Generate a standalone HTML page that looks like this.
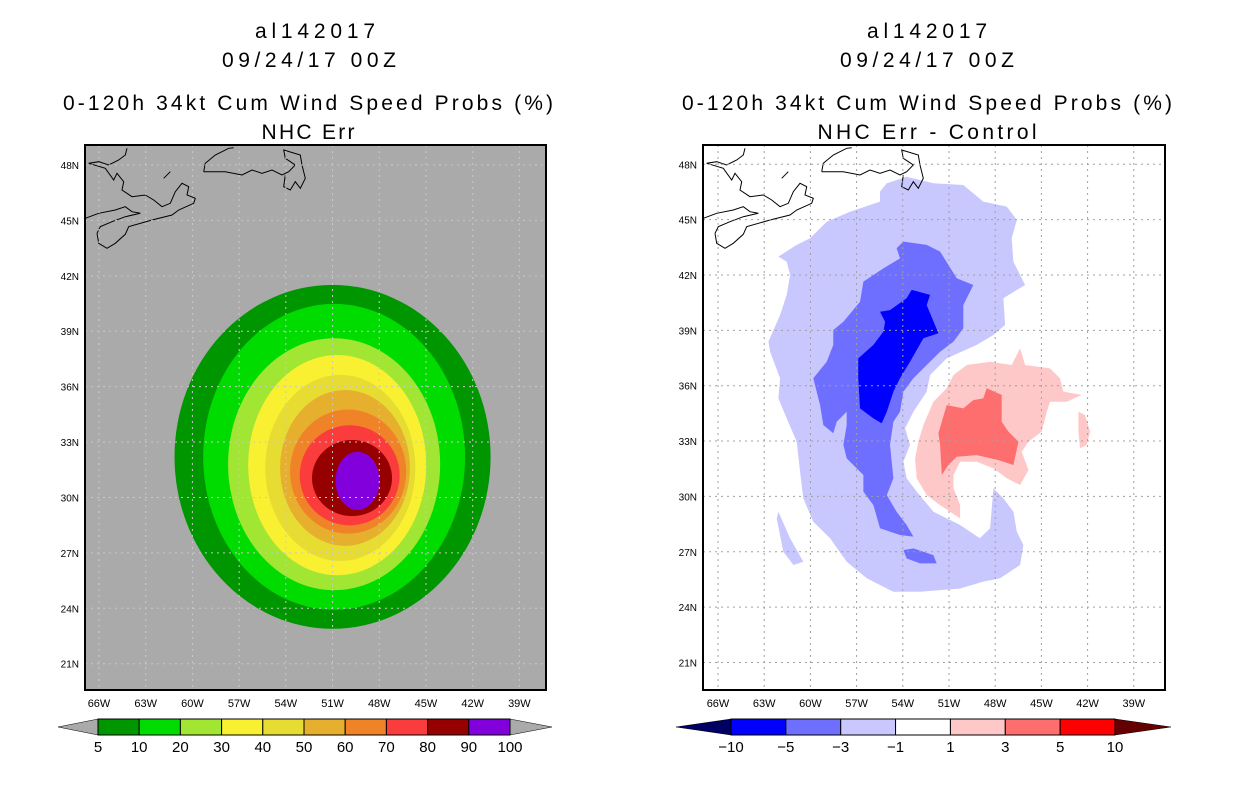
<!DOCTYPE html>
<html><head><meta charset="utf-8"><style>
body{margin:0;background:#fff;width:1236px;height:800px;overflow:hidden}
svg{display:block}
text{font-family:"Liberation Sans",sans-serif}
</style></head><body>
<svg id="s" width="1236" height="800" xmlns="http://www.w3.org/2000/svg">
<g font-size="21" text-anchor="middle" fill="#000">
<text x="315" y="38" textLength="120" lengthAdjust="spacing">al142017</text>
<text x="309" y="67" textLength="174" lengthAdjust="spacing">09/24/17 00Z</text>
<text x="308" y="110" textLength="490" lengthAdjust="spacing">0-120h 34kt Cum Wind Speed Probs (%)</text>
<text x="308" y="139" textLength="93" lengthAdjust="spacing">NHC Err</text>
</g>
<g font-size="21" text-anchor="middle" fill="#000">
<text x="927" y="38" textLength="120" lengthAdjust="spacing">al142017</text>
<text x="927" y="67" textLength="174" lengthAdjust="spacing">09/24/17 00Z</text>
<text x="927" y="110" textLength="490" lengthAdjust="spacing">0-120h 34kt Cum Wind Speed Probs (%)</text>
<text x="927" y="139" textLength="219" lengthAdjust="spacing">NHC Err - Control</text>
</g>
<defs>
<clipPath id="cl"><rect x="85" y="145" width="461" height="545"/></clipPath>
<clipPath id="cr"><rect x="703" y="145" width="462" height="545"/></clipPath>
</defs>
<g id="L" clip-path="url(#cl)"></g>
<g id="R" clip-path="url(#cr)"></g>
<g id="ax"></g>
</svg>
<script>
// ---- data ----
const lonTicks=[66,63,60,57,54,51,48,45,42,39];
const latTicks=[48,45,42,39,36,33,30,27,24,21];
const probLevels=[5,10,20,30,40,50,60,70,80,90,100];
const probColors=['#009600','#00dc00','#a0e632','#faf032','#e6dc32','#e6af2d','#f08228','#fa3c3c','#960000','#8200dc'];
const probCx=[51.0,50.9,50.9,50.7,50.5,50.2,50.0,49.9,49.75,49.4];
const probCy=[32.2,32.2,31.8,31.75,31.6,31.6,31.4,31.2,31.05,30.9];
const probRx=[10.15,8.41,6.81,5.72,4.82,4.17,3.73,3.21,2.57,1.41];
const probRy=[9.31,8.28,6.82,5.96,5.04,4.22,3.36,2.71,2.06,1.57];
const diffLevels=[-10,-5,-3,-1,1,3,5,10];
const diffColors=['#0000ff','#6e6eff','#c8c8ff','#ffffff','#ffc8c8','#ff6e6e','#ff0000'];
const diffLightBlue=[[55.48,46.52],[55.04,46.97],[53.75,47.33],[52.01,46.97],[50.07,46.88],[48.77,45.98],[47.25,45.71],[46.6,44.98],[46.93,43.99],[46.82,42.72],[46.06,41.46],[47.47,40.74],[47.36,39.29],[48.12,38.75],[49.2,38.21],[51.15,37.48],[52.23,36.58],[52.45,35.68],[53.31,34.59],[53.85,33.69],[53.53,32.79],[53.96,31.88],[53.75,30.98],[53.1,30.26],[52.01,29.17],[50.28,28.45],[49.0,27.73],[48.33,28.27],[48.12,30.44],[47.47,29.89],[46.82,29.17],[46.6,28.09],[46.17,27.36],[46.38,26.28],[47.68,25.56],[48.77,25.38],[50.28,25.01],[52.88,24.83],[54.61,24.83],[56.34,25.56],[57.64,26.46],[58.72,27.73],[59.81,28.63],[60.46,29.89],[60.67,31.34],[60.89,32.97],[61.54,34.23],[62.08,35.31],[61.97,36.4],[62.62,37.84],[62.73,38.39],[61.97,39.83],[61.54,40.92],[61.32,42.0],[61.54,42.72],[62.08,43.0],[60.89,43.63],[60.02,43.99],[58.94,44.89],[57.43,45.43],[55.48,45.98]];
const diffLightBlue2=[[62.08,29.17],[61.32,27.73],[60.46,26.46],[61.1,26.28],[61.76,27.0],[62.19,28.81]];
const diffMedBlue=[[54.4,43.45],[53.96,43.81],[52.45,43.63],[51.58,43.27],[50.5,41.82],[49.42,41.46],[50.07,40.37],[50.07,39.11],[50.71,38.39],[51.58,37.84],[52.45,37.12],[53.31,36.4],[53.96,35.68],[54.18,34.59],[54.61,34.05],[54.83,32.79],[54.61,30.98],[55.04,30.07],[54.4,29.17],[53.75,28.45],[53.31,27.82],[54.18,27.91],[55.48,28.27],[55.91,29.53],[56.56,30.26],[56.56,31.16],[57.64,32.06],[57.86,32.79],[57.64,33.87],[57.64,34.59],[58.29,34.05],[58.51,33.42],[59.16,33.87],[59.37,34.95],[59.81,36.4],[58.94,37.3],[58.51,38.21],[58.51,39.02],[57.86,39.47],[56.78,40.55],[56.56,41.64],[55.26,42.36],[54.18,42.9]];
const diffMedBlue2=[[53.96,27.09],[53.31,27.18],[52.01,26.82],[51.8,26.37],[52.88,26.37],[53.75,26.64]];
const diffDarkBlue=[[53.42,41.19],[52.23,40.92],[52.45,40.37],[51.69,38.84],[52.66,38.57],[53.53,37.3],[54.18,36.4],[54.61,35.68],[55.04,34.59],[55.37,33.96],[55.91,34.23],[56.78,34.77],[56.89,36.4],[56.89,37.48],[55.91,38.21],[55.26,38.93],[55.15,39.47],[55.48,40.01],[54.83,40.1],[53.75,40.74]];
const diffPink=[[50.71,36.58],[49.85,37.12],[48.33,37.3],[46.93,37.12],[46.38,38.03],[46.06,37.12],[44.44,36.94],[43.79,36.4],[43.57,35.68],[42.38,35.5],[43.35,35.13],[44.44,35.13],[44.65,34.59],[44.98,33.51],[45.84,32.97],[46.28,32.42],[45.84,31.43],[46.38,30.62],[47.25,30.98],[48.12,31.52],[49.2,31.88],[50.28,31.88],[50.71,31.16],[50.71,30.44],[50.28,29.53],[50.28,28.81],[50.93,29.17],[51.58,29.53],[52.45,30.07],[53.1,30.98],[53.2,32.06],[52.99,32.97],[52.66,33.87],[52.01,35.13],[51.15,35.86]];
const diffPink2=[[42.6,34.59],[42.17,34.41],[41.84,33.51],[42.06,32.79],[42.49,32.61],[42.6,33.51]];
const diffRed=[[51.15,34.95],[50.07,34.77],[49.42,35.22],[48.77,35.31],[48.55,35.86],[47.58,35.5],[47.58,34.05],[47.14,33.51],[46.49,32.97],[46.82,31.7],[47.79,31.97],[49.2,32.24],[50.5,32.15],[51.04,31.7],[51.47,31.16],[51.58,32.79],[51.69,33.42]];

// ---- helpers ----
const NS='http://www.w3.org/2000/svg';
function mk(t,a,p){const e=document.createElementNS(NS,t);for(const k in a)e.setAttribute(k,a[k]);p.appendChild(e);return e;}
const xL=w=>99+(66-w)*15.57, yL=l=>165+(48-l)*18.47;
const xR=w=>718+(66-w)*15.4, yR=l=>164.3+(48-l)*18.45;
const L=document.getElementById('L'),R=document.getElementById('R'),AX=document.getElementById('ax');

let bg=mk('rect',{x:85,y:145,width:461,height:545,fill:'#aaaaaa'},L);


probCx.forEach((c,i)=>{
  const e=mk('ellipse',{cx:xL(c),cy:yL(probCy[i]),rx:probRx[i]*15.57,ry:probRy[i]*18.47,fill:probColors[i]},L);
  
  
});
function poly(pts,fill,name){
  const e=mk('polygon',{points:pts.map(p=>xR(p[0]).toFixed(1)+','+yR(p[1]).toFixed(1)).join(' '),fill:fill},R);
  
  
}
poly(diffLightBlue,diffColors[2],'diff-contour-minus1');
poly(diffLightBlue2,diffColors[2],'diff-contour-minus1-patch');
poly(diffMedBlue,diffColors[1],'diff-contour-minus3');
poly(diffMedBlue2,diffColors[1],'diff-contour-minus3-patch');
poly(diffDarkBlue,diffColors[0],'diff-contour-minus5');
poly(diffPink,diffColors[4],'diff-contour-plus1');
poly(diffPink2,diffColors[4],'diff-contour-plus1-patch');
poly(diffRed,diffColors[5],'diff-contour-plus3');

const coast=[
[[45,265],[50,295],[75,310],[100,295],[130,268],[140,245],[210,225],[270,210],[290,195],[335,175],[340,160],[315,150],[320,125],[300,115],[280,140],[265,175],[240,185],[215,165],[190,150],[150,155],[120,135],[125,110],[105,85],[95,105],[70,70],[20,55],[50,50],[80,60],[110,45],[130,30],[135,10]],
[[10,220],[50,205],[100,195],[130,185],[150,200],[175,205],[130,215],[90,230],[55,245],[45,265]],
[[365,80],[370,55],[400,30],[420,20],[440,10],[455,8]],
[[365,80],[430,80],[480,90],[510,75],[540,85],[570,75],[600,90],[620,80],[640,60],[610,40],[605,15],[655,30],[660,60],[670,100],[655,130],[640,110],[625,135],[605,125],[610,90]],
[[245,100],[265,80]]];
[[L,85],[R,703]].forEach(([g,ox])=>{
  coast.forEach(c=>{
    const e=mk('polyline',{points:c.map(p=>(ox+p[0]/3-3).toFixed(1)+','+(145+p[1]/3).toFixed(1)).join(' '),fill:'none',stroke:'#000','stroke-width':1},g);
    
    
  });
});
[[L,xL,yL,'#c8c8c8',85,546,145,690],[R,xR,yR,'#a0a0a0',703,1165,145,690]].forEach(([g,fx,fy,col,x0,x1,y0,y1])=>{
  lonTicks.forEach(w=>{const e=mk('line',{x1:fx(w),x2:fx(w),y1:y0,y2:y1,stroke:col,'stroke-dasharray':'2,4'},g);
    });
  latTicks.forEach(l=>{const e=mk('line',{x1:x0,x2:x1,y1:fy(l),y2:fy(l),stroke:col,'stroke-dasharray':'2,4'},g);
    });
});
[[85,145,461,545,xL,yL],[703,145,462,545,xR,yR]].forEach(([x,y,w,h,fx,fy],k)=>{
  const f=mk('rect',{x:x,y:y,width:w,height:h,fill:'none',stroke:'#000','stroke-width':2},AX);
  
  
  lonTicks.forEach(t=>{const e=mk('text',{x:fx(t),y:707,'font-size':11,'text-anchor':'middle'},AX);e.textContent=t+'W';
    });
  latTicks.forEach(t=>{const e=mk('text',{x:x-6,y:fy(t)+4,'font-size':10,'text-anchor':'end'},AX);e.textContent=t+'N';
    });
});
function cbar(x0,x1,tl,tr,cols,labels,lc,rc,name){
  const n=cols.length,bw=(x1-x0)/n,y0=719,y1=735,ym=727;
  let e=mk('polygon',{points:`${tl},${ym} ${x0},${y0} ${x0},${y1}`,fill:lc,stroke:'#000','stroke-width':0.5},AX);
  
  e=mk('polygon',{points:`${tr},${ym} ${x1},${y0} ${x1},${y1}`,fill:rc,stroke:'#000','stroke-width':0.5},AX);
  
  cols.forEach((c,i)=>{const r=mk('rect',{x:x0+i*bw,y:y0,width:bw,height:y1-y0,fill:c,stroke:'#000','stroke-width':1},AX);
    });
  labels.forEach((l,i)=>{const t=mk('text',{x:x0+i*bw,y:752,'font-size':15,'text-anchor':'middle'},AX);t.textContent=String(l).replace('-','\u2212');
    });
}
cbar(98,510,58,552,probColors,probLevels,'#aaaaaa','#aaaaaa','prob-colorbar');
cbar(731,1115,676,1171,diffColors,diffLevels,'#000064','#640000','diff-colorbar');
</script>
</body></html>
